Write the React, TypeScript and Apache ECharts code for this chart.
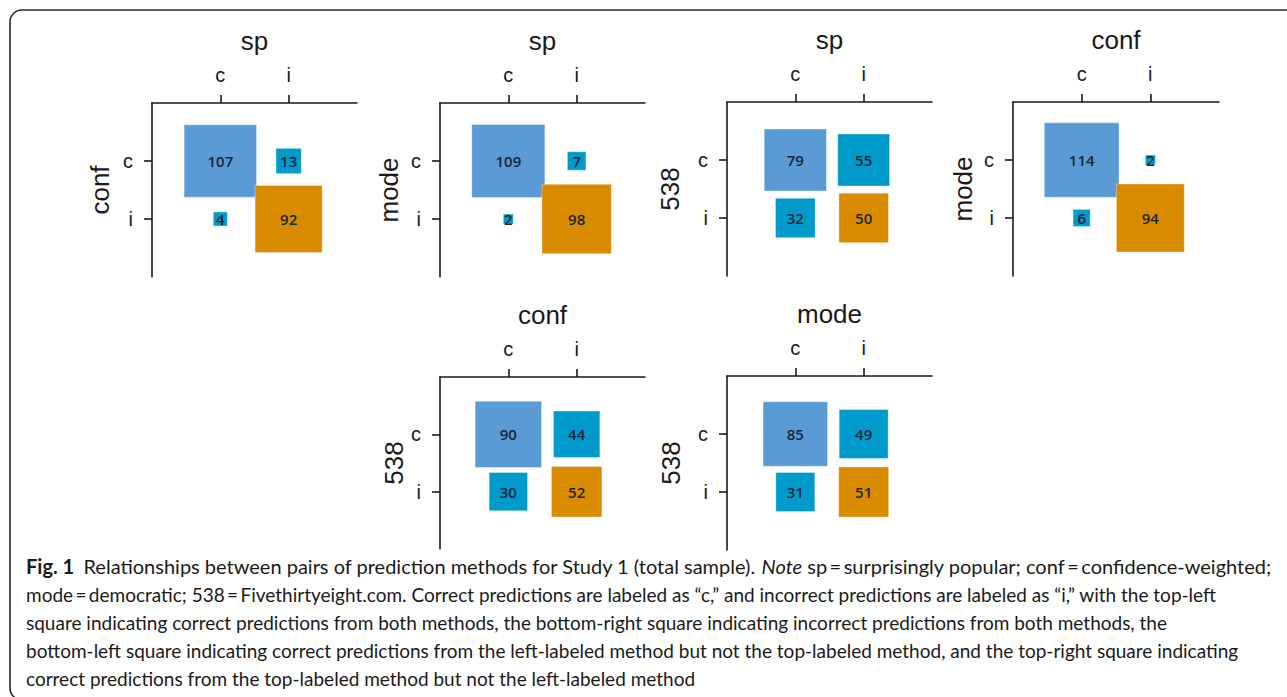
import React, { useEffect, useRef } from "react";
import * as echarts from "echarts";

// ---- data ----
const topMethods = ["sp", "sp", "sp", "conf", "conf", "mode"];
const leftMethods = ["conf", "mode", "538", "mode", "538", "538"];
const outcomeLabels = ["c", "i"];
const bothCorrect = [107, 109, 79, 114, 90, 85]; // top-left
const topRight = [13, 7, 55, 2, 44, 49]; // x = i, y = c
const bottomLeft = [4, 2, 32, 6, 30, 31]; // x = c, y = i
const bothIncorrect = [92, 98, 50, 94, 52, 51]; // bottom-right

const captionLines = [
  "Relationships between pairs of prediction methods for Study 1 (total sample). ",
  "mode\u2009=\u2009democratic; 538\u2009=\u2009Fivethirtyeight.com. Correct predictions are labeled as \u201Cc,\u201D and incorrect predictions are labeled as \u201Ci,\u201D with the top-left",
  "square indicating correct predictions from both methods, the bottom-right square indicating incorrect predictions from both methods, the",
  "bottom-left square indicating correct predictions from the left-labeled method but not the top-labeled method, and the top-right square indicating",
  "correct predictions from the top-labeled method but not the left-labeled method",
];

// ---- layout / style ----
const layouts = [
  { left: 152, top: 103, width: 205, height: 174, yGap: 39 },
  { left: 440, top: 103, width: 205, height: 174, yGap: 38 },
  { left: 727, top: 102, width: 205, height: 174, yGap: 44 },
  { left: 1013, top: 102, width: 206, height: 174, yGap: 37 },
  { left: 440, top: 377, width: 205, height: 172, yGap: 32 },
  { left: 727, top: 376, width: 205, height: 174, yGap: 43 },
];
const COL_BOTH = "#5B9BD5";
const COL_OFF = "#009BCB";
const COL_INC = "#D98B00";
const SIDE_PER_SQRT = 7;
const AX_FONT = "Liberation Sans";
const CAP_FONT = "Lato";

function App() {
  const ref = useRef<HTMLDivElement>(null);
  useEffect(() => {
    if (!ref.current) return;
    const chart = echarts.init(ref.current, null, { renderer: "svg" });
    const grids: any[] = [];
    const xAxes: any[] = [];
    const yAxes: any[] = [];
    const series: any[] = [];
    const tickFmt = (v: number) => outcomeLabels[Math.round(v) - 1] ?? "";
    layouts.forEach((L, i) => {
      grids.push({ left: L.left, top: L.top, width: L.width, height: L.height, containLabel: false });
      const axisLine = { show: true, lineStyle: { color: "#1a1a1a", width: 1.6 } };
      xAxes.push({
        gridIndex: i,
        type: "value",
        position: "top",
        min: 0,
        max: 3,
        interval: 1,
        name: topMethods[i],
        nameLocation: "middle",
        nameGap: 49,
        nameTextStyle: { fontFamily: AX_FONT, fontSize: 26, color: "#1a1a1a" },
        axisLine,
        axisTick: { show: true, length: 8, customValues: [1, 2], lineStyle: { color: "#1a1a1a", width: 1.6 } },
        axisLabel: {
          show: true,
          customValues: [1, 2],
          formatter: tickFmt,
          margin: 18,
          fontFamily: AX_FONT,
          fontSize: 20,
          color: "#1a1a1a",
        },
        splitLine: { show: false },
      });
      yAxes.push({
        gridIndex: i,
        type: "value",
        position: "left",
        inverse: true,
        min: 0,
        max: 3,
        interval: 1,
        name: leftMethods[i],
        nameLocation: "middle",
        nameGap: L.yGap,
        nameTextStyle: { fontFamily: AX_FONT, fontSize: 26, color: "#1a1a1a" },
        axisLine,
        axisTick: { show: true, length: 8, customValues: [1, 2], lineStyle: { color: "#1a1a1a", width: 1.6 } },
        axisLabel: {
          show: true,
          customValues: [1, 2],
          formatter: tickFmt,
          margin: 19,
          fontFamily: AX_FONT,
          fontSize: 20,
          color: "#1a1a1a",
        },
        splitLine: { show: false },
      });
      const cell = (x: number, y: number, n: number, color: string) => ({
        value: [x, y, n],
        itemStyle: { color, opacity: 1, borderColor: "rgba(255,255,255,0.35)", borderWidth: 1 },
      });
      series.push({
        type: "scatter",
        xAxisIndex: i,
        yAxisIndex: i,
        symbol: "rect",
        symbolSize: (v: number[]) => SIDE_PER_SQRT * Math.sqrt(v[2]),
        itemStyle: { opacity: 1 },
        data: [
          cell(1, 1, bothCorrect[i], COL_BOTH),
          cell(2, 1, topRight[i], COL_OFF),
          cell(1, 2, bottomLeft[i], COL_OFF),
          cell(2, 2, bothIncorrect[i], COL_INC),
        ],
        label: {
          show: true,
          position: "inside",
          formatter: (p: any) => String(p.value[2]),
          fontFamily: "Open Sans",
          fontSize: 15,
          fontWeight: 600,
          color: "#1b2531",
        },
        emphasis: { disabled: true },
      });
    });

    const capX = 26;
    const capY0 = 566;
    const capStep = 28;
    const graphic: any[] = [
      {
        type: "rect",
        shape: { x: 10, y: 10, width: 1300, height: 690, r: 12 },
        style: { fill: "none", stroke: "#2a2a2a", lineWidth: 1.6 },
        silent: true,
      },
      {
        type: "text",
        x: capX,
        y: capY0,
        style: {
          text:
            "{b|Fig. 1}\u2002 {n|" +
            captionLines[0] +
            "}{it|Note}{n| sp\u2009=\u2009surprisingly popular; conf\u2009=\u2009confidence-weighted;}",
          verticalAlign: "middle",
          rich: {
            b: { fontFamily: CAP_FONT, fontSize: 20, fontWeight: "bold", fill: "#1a1a1a" },
            n: { fontFamily: CAP_FONT, fontSize: 20, fill: "#1a1a1a" },
            it: { fontFamily: CAP_FONT, fontSize: 20, fontStyle: "italic", fill: "#1a1a1a" },
          },
        },
      },
    ];
    for (let k = 1; k < captionLines.length; k++) {
      graphic.push({
        type: "text",
        x: capX,
        y: capY0 + k * capStep,
        style: {
          text: captionLines[k],
          fontFamily: CAP_FONT,
          fontSize: 19,
          fill: "#1a1a1a",
          verticalAlign: "middle",
        },
      });
    }

    chart.setOption({
      animation: false,
      backgroundColor: "#ffffff",
      grid: grids,
      xAxis: xAxes,
      yAxis: yAxes,
      series,
      graphic,
    });
    return () => chart.dispose();
  }, []);
  return (
    <div
      ref={ref}
      style={{ position: "fixed", left: 0, top: 0, width: 1287, height: 697, background: "#fff" }}
    />
  );
}

export default App;
